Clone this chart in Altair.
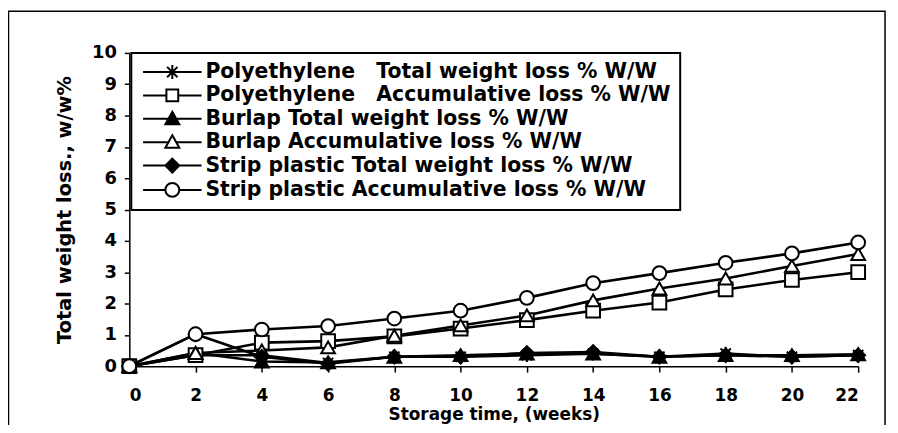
import altair as alt
import pandas as pd

weeks = [0, 2, 4, 6, 8, 10, 12, 14, 16, 18, 20, 22]
poly_total = [0, 0.35, 0.35, 0.1, 0.3, 0.3, 0.35, 0.4, 0.3, 0.4, 0.3, 0.35]
poly_accum = [0, 0.35, 0.75, 0.8, 0.95, 1.2, 1.47, 1.77, 2.03, 2.45, 2.75, 3.0]
burlap_total = [0, 0.42, 0.15, 0.12, 0.3, 0.35, 0.4, 0.4, 0.3, 0.35, 0.35, 0.38]
burlap_accum = [0, 0.42, 0.5, 0.6, 0.97, 1.3, 1.62, 2.1, 2.48, 2.8, 3.2, 3.58]
strip_total = [0, 1.02, 0.3, 0.08, 0.3, 0.3, 0.42, 0.45, 0.3, 0.35, 0.3, 0.35]
strip_accum = [0, 1.02, 1.17, 1.28, 1.52, 1.77, 2.18, 2.65, 2.97, 3.3, 3.6, 3.95]

NB = "\u00a0"
series_names = [
    "Polyethylene" + NB * 3 + "Total weight loss % W/W",
    "Polyethylene" + NB * 3 + "Accumulative loss % W/W",
    "Burlap Total weight loss % W/W",
    "Burlap Accumulative loss % W/W",
    "Strip plastic Total weight loss % W/W",
    "Strip plastic Accumulative loss % W/W",
]
series_values = [poly_total, poly_accum, burlap_total, burlap_accum, strip_total, strip_accum]
series_fill = ["black", "white", "black", "white", "black", "white"]
series_stroke = ["black"] * 6

x_ticks = weeks
y_ticks = [0, 1, 2, 3, 4, 5, 6, 7, 8, 9, 10]

# marker shapes for the plot
asterisk = "M-1,0H1M0,-1V1M-0.75,-0.75L0.75,0.75M-0.75,0.75L0.75,-0.75"
plot_shapes = [asterisk, "square", "triangle-up", "triangle-up", "diamond", "circle"]

# legend symbols: line through marker
legend_shapes = [
    "M-4.2,0H4.2M-1,0H1M0,-1V1M-0.75,-0.75L0.75,0.75M-0.75,0.75L0.75,-0.75",
    "M-4.2,0H-0.85M0.85,0H4.2M-0.85,-0.85H0.85V0.85H-0.85Z",
    "M-4.2,0H4.2M0,-1L1,0.8H-1Z",
    "M-4.2,0H-0.56M0.56,0H4.2M0,-1L1,0.8H-1Z",
    "M-4.2,0H4.2M0,-1L1,0L0,1L-1,0Z",
    "M-4.2,0H-1M1,0H4.2M1,0A1,1 0 1,1 -1,0A1,1 0 1,1 1,0Z",
]

rows = []
for name, vals in zip(series_names, series_values):
    for w, v in zip(weeks, vals):
        rows.append({"week": w, "value": v, "series": name})
df = pd.DataFrame(rows)

FONT = "DejaVu Sans"

x_enc = alt.X(
    "week:Q",
    scale=alt.Scale(domain=[0, 22], nice=False, zero=False),
    axis=alt.Axis(
        values=x_ticks, title="Storage time, (weeks)", grid=False, tickSize=6,
        labelPadding=16, labelFontSize=17, titleY=49, titleBaseline="middle",
        titleX=366.5, titleAlign="center",
    ),
)
y_enc = alt.Y(
    "value:Q",
    scale=alt.Scale(domain=[0, 10], nice=False),
    axis=alt.Axis(
        values=y_ticks, title="Total weight loss., w/w%", grid=False, tickSize=5,
        labelPadding=8, titleX=-65, titleY=157.5, titleBaseline="middle",
        titleAlign="center", titleAngle=270,
    ),
)

base = alt.Chart(df)

lines = base.mark_line(color="black", strokeWidth=2.6).encode(
    x=x_enc, y=y_enc, detail="series:N"
)

points = base.mark_point(filled=True, stroke="black", strokeWidth=2, size=190, opacity=1).encode(
    x=x_enc,
    y=y_enc,
    shape=alt.Shape("series:N", scale=alt.Scale(domain=series_names, range=plot_shapes), legend=None),
    fill=alt.Fill("series:N", scale=alt.Scale(domain=series_names, range=series_fill), legend=None),
)

legend = alt.Legend(
    orient="none", legendX=2, legendY=0, title=None,
    strokeColor="black", fillColor="white", padding=9, rowPadding=1.5,
    symbolOffset=22, labelOffset=23, symbolSize=196, symbolStrokeWidth=2,
    symbolStrokeColor="black", symbolOpacity=1, labelLimit=1000,
    labelFont=FONT, labelFontWeight="bold", labelFontSize=20.5, labelColor="black",
)

legend_layer = base.mark_point(filled=True, strokeWidth=2, opacity=0).encode(
    x=x_enc,
    y=y_enc,
    shape=alt.Shape("series:N", scale=alt.Scale(domain=series_names, range=legend_shapes), legend=legend),
    fill=alt.Fill("series:N", scale=alt.Scale(domain=series_names, range=series_fill), legend=legend),
    stroke=alt.Stroke("series:N", scale=alt.Scale(domain=series_names, range=series_stroke), legend=legend),
)

frame = alt.Chart(pd.DataFrame({"a": [0]})).mark_rect(
    fillOpacity=0, stroke="black", strokeWidth=1.5
).encode(
    x=alt.value(-121.5), x2=alt.value(760), y=alt.value(-42), y2=alt.value(420)
)

chart = (
    alt.layer(frame, lines, points, legend_layer)
    .resolve_scale(shape="independent", fill="independent", stroke="independent")
    .properties(
        width=733, height=315, autosize="none",
        padding={"left": 122, "top": 44, "right": 32, "bottom": 58},
    )
    .configure_view(stroke=None)
    .configure_axis(
        labelFont=FONT, labelFontWeight="bold", labelFontSize=18, labelColor="black",
        titleFont=FONT, titleFontWeight="bold", titleFontSize=19.5, titleColor="black",
        domainColor="black", domainWidth=1.5, tickColor="black", tickWidth=1.5,
    )
    .configure_axisX(titleFontSize=17)
    .configure_legend(strokeWidth=2)
)

chart.save("out.html", embed_options={"renderer": "svg", "actions": False})
